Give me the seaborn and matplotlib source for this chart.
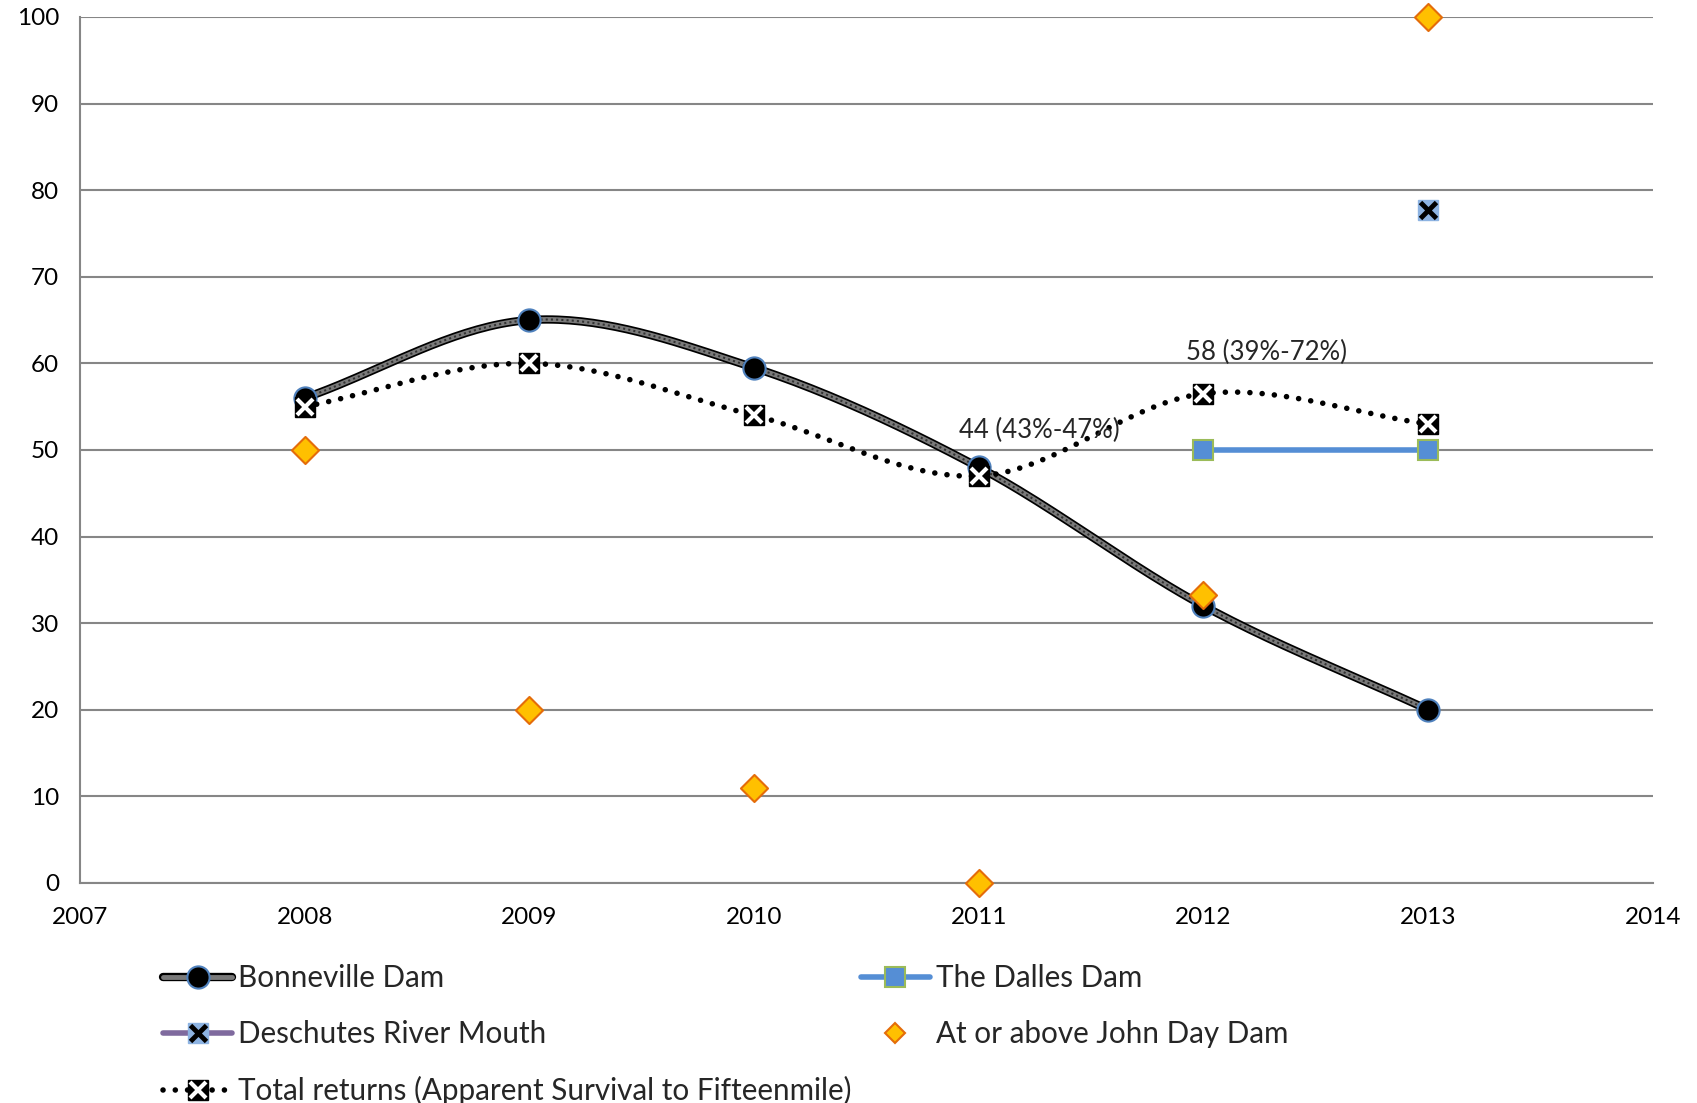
import numpy as np
import matplotlib
matplotlib.use("Agg")
import matplotlib.pyplot as plt
import seaborn as sns
from matplotlib.lines import Line2D

# data
years = [2008, 2009, 2010, 2011, 2012, 2013]
bonneville = [56, 65, 59.5, 48, 32, 20]
total_returns = [55, 60, 54, 47, 56.5, 53]
dalles_years = [2012, 2013]
dalles = [50, 50]
deschutes_years = [2013]
deschutes = [77.7]
john_day = [50, 20, 11, 0, 33.3, 100]
notes = [("44 (43%-47%)", 2011.27, 52.3), ("58 (39%-72%)", 2012.28, 61.3)]

sns.set_style("white")
plt.rcParams['font.family'] = ['Lato', 'DejaVu Sans']

GRID = '#868686'


def smooth(x, y, n=40):
    # Catmull-Rom style smoothing like Excel's smoothed line
    x = np.asarray(x, float)
    y = np.asarray(y, float)
    px = np.concatenate([[2 * x[0] - x[1]], x, [2 * x[-1] - x[-2]]])
    py = np.concatenate([[2 * y[0] - y[1]], y, [2 * y[-1] - y[-2]]])
    xs, ys = [], []
    t = np.linspace(0, 1, n)
    for i in range(1, len(px) - 2):
        for p, out in ((px, xs), (py, ys)):
            p0, p1, p2, p3 = p[i - 1], p[i], p[i + 1], p[i + 2]
            out.extend(0.5 * ((2 * p1) + (-p0 + p2) * t
                              + (2 * p0 - 5 * p1 + 4 * p2 - p3) * t ** 2
                              + (-p0 + 3 * p1 - 3 * p2 + p3) * t ** 3))
    return np.array(xs), np.array(ys)


fig = plt.figure(figsize=(16.97, 11.03), dpi=100)
ax = fig.add_axes([0.0471, 0.1995, 0.9269, 0.7851])

ax.set_xlim(2007, 2014)
ax.set_ylim(0, 100)
ax.set_xticks(range(2007, 2015))
ax.set_yticks(range(0, 101, 10))
ax.yaxis.grid(True, color=GRID, lw=1.5)
ax.set_axisbelow(True)
for s in ['top', 'right']:
    ax.spines[s].set_visible(False)
for s in ['left', 'bottom']:
    ax.spines[s].set_color(GRID)
    ax.spines[s].set_linewidth(1.5)
ax.tick_params(axis='both', direction='out', length=7, width=1.5, color=GRID,
               labelsize=17.5, colors='black')
ax.tick_params(axis='x', pad=10)
ax.tick_params(axis='y', pad=8)
for lab in ax.get_xticklabels() + ax.get_yticklabels():
    lab.set_color('black')

# Bonneville Dam (textured thick gray line)
bx, by = smooth(years, bonneville)
ax.plot(bx, by, color='black', lw=6, solid_capstyle='round', zorder=3)
ax.plot(bx, by, color='#7a7a7a', lw=3.5, zorder=3)
ax.plot(bx, by, color='#333333', lw=1.5, ls=(0, (1, 1.5)), zorder=3)
ax.plot(years, bonneville, ls='none', marker='o', ms=16, mfc='black',
        mec='#4f81bd', mew=1.5, zorder=4)

# Total returns (dotted)
tx, ty = smooth(years, total_returns)
ax.plot(tx, ty, color='black', lw=4, ls=(0, (0.01, 2.2)),
        dash_capstyle='round', zorder=5)
ax.plot(years, total_returns, ls='none', marker='s', ms=14, mfc='black',
        mec='black', zorder=6)
ax.plot(years, total_returns, ls='none', marker='x', ms=11, mec='white',
        mew=3, zorder=7)

# The Dalles Dam
ax.plot(dalles_years, dalles, color='#558ed5', lw=4, marker='s', ms=15,
        mfc='#558ed5', mec='#9bbb59', mew=1.5, zorder=4)

# Deschutes River Mouth
ax.plot(deschutes_years, deschutes, ls='none', marker='s', ms=15,
        mfc='#8db3e2', mec='#8db3e2', zorder=4)
ax.plot(deschutes_years, deschutes, ls='none', marker='x', ms=12,
        mec='black', mew=3.5, zorder=5)

# At or above John Day Dam
sns.scatterplot(x=years, y=john_day, marker='D', s=190, color='#ffc000',
                edgecolor='#e46c0a', linewidth=1.5, zorder=8, ax=ax,
                clip_on=False)

for txt, x, y in notes:
    ax.text(x, y, txt, ha='center', va='center', fontsize=18.5, zorder=9)

# legend
h_bonn = (Line2D([], [], color='black', lw=6),
          Line2D([], [], color='#7a7a7a', lw=3.5),
          Line2D([], [], marker='o', ms=16, mfc='black', mec='#4f81bd',
                 mew=1.5, ls='none'))
h_desch = (Line2D([], [], color='#7f6a9e', lw=4),
           Line2D([], [], marker='s', ms=15, mfc='#8db3e2', mec='#8db3e2',
                  ls='none'),
           Line2D([], [], marker='x', ms=12, mec='black', mew=3.5, ls='none'))
h_total = (Line2D([], [], color='black', lw=4, ls=(0, (0.01, 2.2)),
                  dash_capstyle='round'),
           Line2D([], [], marker='s', ms=14, mfc='black', mec='black',
                  ls='none'),
           Line2D([], [], marker='x', ms=11, mec='white', mew=3, ls='none'))
h_dalles = Line2D([], [], color='#558ed5', lw=4, marker='s', ms=15,
                  mfc='#558ed5', mec='#9bbb59', mew=1.5)
h_jd = Line2D([], [], ls='none', marker='D', ms=10, mfc='#ffc000',
              mec='#e46c0a', mew=1.5)

handles = [h_bonn, h_desch, h_total, h_dalles, h_jd]
labels = ['Bonneville Dam', 'Deschutes River Mouth',
          'Total returns (Apparent Survival to Fifteenmile)',
          'The Dalles Dam', 'At or above John Day Dam']
fig.legend(handles, labels, loc='upper left', bbox_to_anchor=(0.096, 0.126),
           ncol=2, frameon=False, fontsize=21.3, handlelength=2.35,
           handletextpad=0.2, columnspacing=0.3, labelspacing=0.95,
           borderpad=0, borderaxespad=0)

fig.savefig('out.png', dpi=100)
